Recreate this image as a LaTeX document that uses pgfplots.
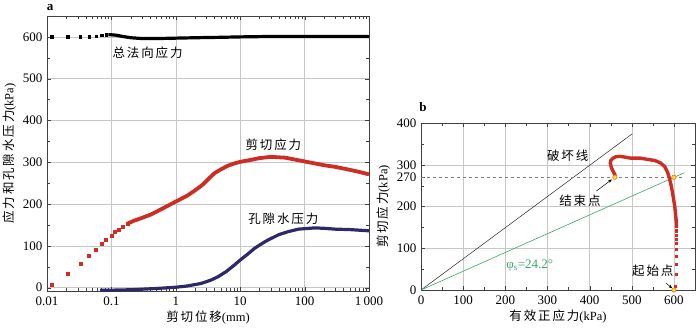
\documentclass[border=0pt]{standalone}
\usepackage{fontspec}
\setmainfont{Liberation Serif}
\newfontfamily\cjk[LetterSpace=15]{Noto Sans CJK SC}
\usepackage{pgfplots}
\pgfplotsset{compat=1.18}
\usetikzlibrary{arrows.meta}

\definecolor{shear}{RGB}{205,45,35}
\definecolor{pore}{RGB}{45,40,105}
\definecolor{phigreen}{RGB}{60,165,105}
\definecolor{mkfill}{RGB}{255,225,40}
\definecolor{mkdraw}{RGB}{235,115,30}

\pgfplotsset{
  common/.style={
    scale only axis,
    anchor=south west,
    axis line style={black!75, line width=0.6pt},
    grid=major,
    major grid style={black!22, line width=0.5pt},
    tick style={black!75},
    tick align=inside,
    tick label style={font=\fontsize{13}{13}\selectfont},
    xticklabel style={yshift=-2.5pt},
    yticklabel style={xshift=-1pt},
    label style={font=\fontsize{12.5}{13}\selectfont},
    /pgf/number format/assume math mode=true,
  }
}

\begin{document}
\begin{tikzpicture}
\useasboundingbox (0,0) rectangle (700pt,330pt);

% ---- panel a ----
\begin{axis}[common,
    at={(47pt,39pt)}, width=322pt, height=275pt,
    xmode=log, xmin=0.01, xmax=1000,
    ymin=-8, ymax=650,
    xtick={0.01,0.1,1,10,100,1000},
    xticklabels={0.01,0.1,1,10,100,1\,000},
    ytick={0,100,...,600},
    minor y tick num=1,
    xlabel={{\cjk 剪切位移}(mm)},
    ylabel={{\cjk 应力和孔隙水压力}(kPa)},
    xlabel style={yshift=2pt},
]
% total normal stress
\addplot[only marks, mark=square*, mark size=1.3pt, black] coordinates {
(0.0118,600) (0.021,600) (0.033,601) (0.045,601) (0.058,602) (0.07,604) (0.083,605)
};
\addplot[black, line width=3.2pt] coordinates {
(0.09,605) (0.1,605) (0.12,604) (0.15,601) (0.2,598) (0.3,596) (0.5,596) (1,597)
(2,598) (5,599) (10,600) (30,601) (100,601) (300,601) (1000,601)
};
% shear stress
\addplot[only marks, mark=square*, mark size=1.5pt, shear] coordinates {
(0.0118,7) (0.021,34) (0.033,58) (0.045,76) (0.058,92) (0.07,105) (0.083,114)
(0.1,125) (0.111,133) (0.13,138) (0.152,146) (0.176,153)
};
\addplot[shear, line width=3.8pt] coordinates {
(0.176,153) (0.223,160) (0.3,167) (0.41,175) (0.6,188) (1,206) (1.5,220) (2,233)
(2.6,246) (3.3,262) (4,274) (5,283) (6.5,292) (8,297) (10,301) (15,306) (20,310)
(30,313) (50,311) (100,302) (200,293) (300,289) (500,282) (700,277) (1000,271)
};
% pore pressure
\addplot[pore, line width=3.2pt] coordinates {
(0.067,-6) (0.1,-6) (0.2,-5) (0.5,-2) (1,1) (1.5,4) (2.46,10) (3.5,18) (4.5,26)
(6,38) (8.1,54) (10,66) (13,80) (16.7,94) (22,106) (27,114) (40,127) (55.6,134)
(80,140) (145,143) (200,142) (300,140) (500,139) (1000,136)
};
\node[font=\cjk\fontsize{12.5}{13}\selectfont] at (axis cs:0.365,563) {总法向应力};
\node[font=\cjk\fontsize{12.5}{13}\selectfont] at (axis cs:32.8,342) {剪切应力};
\node[font=\cjk\fontsize{12.5}{13}\selectfont] at (axis cs:46.8,165) {孔隙水压力};
\end{axis}

% ---- panel b ----
\begin{axis}[common,
    at={(421pt,40pt)}, width=274pt, height=167pt,
    xmin=0, xmax=650, ymin=0, ymax=400,
    xtick={0,100,...,600},
    ytick={0,100,200,300,400},
    extra y ticks={270},
    extra y tick style={grid=none},
    minor tick num=1,
    clip=false,
    xlabel={{\cjk 有效正应力}(kPa)},
    ylabel={{\cjk 剪切应力}(kPa)},
    xlabel style={yshift=2pt},
]
\addplot[black!85, line width=0.5pt] coordinates {(0,0) (501,374)};
\addplot[phigreen, line width=0.6pt] coordinates {(0,0) (625,281)};
\addplot[black!50, dashed, line width=0.6pt] coordinates {(0,270) (622,270)};
\addplot[only marks, mark=square*, mark size=1.1pt, shear] coordinates {
(603,10) (605,38) (605,62) (606,81) (606,98) (606,112) (606,122) (606,132) (606,142)
};
\addplot[shear, line width=3.4pt] coordinates {
(606,148) (606,160) (604,180) (602,200) (598,225) (594,248) (590,265) (585,282)
(578,296) (567,305) (555,310) (543,312) (519,316) (496,316) (480,319) (472,320)
(462,319) (456,316) (450,310) (449,304) (452,292) (456,284) (460,276) (460,270)
};
\addplot[only marks, mark=*, mark size=2.2pt, mark options={fill=mkfill, draw=mkdraw, line width=0.6pt}] coordinates {
(600,0) (600,270) (460,270)
};
\node[font=\cjk\fontsize{12.5}{13}\selectfont] at (axis cs:348,322) {破坏线};
\node[font=\cjk\fontsize{12.5}{13}\selectfont] at (axis cs:377,213) {结束点};
\node[font=\cjk\fontsize{12.5}{13}\selectfont] at (axis cs:550,47) {起始点};
\draw[-{Stealth[length=4pt]}, line width=0.5pt] (axis cs:416,237) -- (axis cs:453,265);
\draw[-{Stealth[length=4pt]}, line width=0.5pt] (axis cs:582,16) -- (axis cs:596,4);
\node[text=phigreen, font=\fontsize{13}{13}\selectfont] at (axis cs:258,59) {φ\textsubscript{s}=24.2°};
\end{axis}

\node[font=\bfseries\fontsize{13}{13}\selectfont] at (50pt,322pt) {a};
\node[font=\bfseries\fontsize{13}{13}\selectfont] at (423pt,223pt) {b};
\end{tikzpicture}
\end{document}
